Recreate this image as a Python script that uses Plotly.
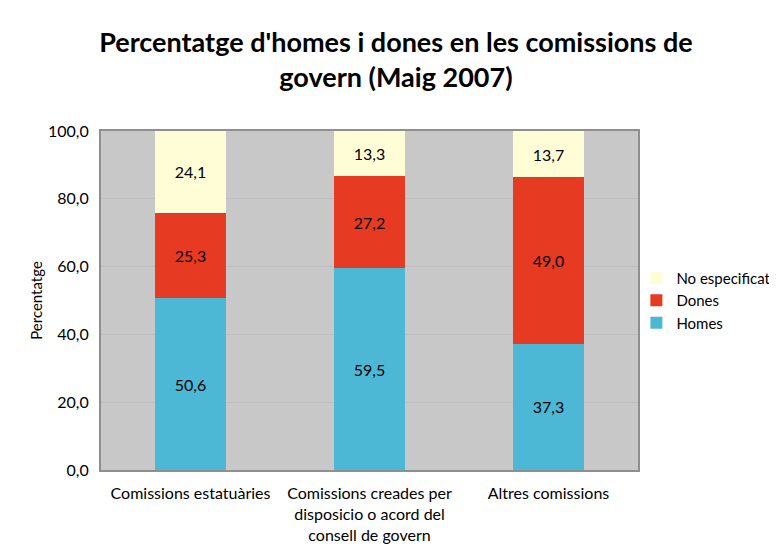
import plotly.graph_objects as go

categories = [
    'Comissions estatuàries',
    'Comissions creades per<br>disposicio o acord del<br>consell de govern',
    'Altres comissions',
]
homes = [50.6, 59.5, 37.3]
dones = [25.3, 27.2, 49.0]
no_especificat = [24.1, 13.3, 13.7]

SERIES = [
    ('Homes', homes, '#4db8d6'),
    ('Dones', dones, '#e63b22'),
    ('No especificat', no_especificat, '#fffdd6'),
]

FONT = 'Lato, "Open Sans", sans-serif'


def fmt(v):
    return f'{v:.1f}'.replace('.', ',')


fig = go.Figure()
for name, vals, color in SERIES:
    fig.add_trace(go.Bar(
        name=name,
        x=categories,
        y=vals,
        marker=dict(color=color, line=dict(width=0)),
        text=[fmt(v) for v in vals],
        textposition='inside',
        insidetextanchor='middle',
        textfont=dict(color='black', size=16, family=FONT),
        width=0.4,
    ))

# page body has an 8px margin, so the figure is sized a bit smaller
fig.update_layout(
    barmode='stack',
    width=769, height=548,
    margin=dict(l=93, r=139, t=123, b=86, autoexpand=False),
    paper_bgcolor='white',
    plot_bgcolor='#c8c8c8',
    font=dict(family=FONT, color='black', size=16),
    title=dict(
        text="<b>Percentatge d'homes i dones en les comissions de<br>govern (Maig 2007)</b>",
        x=0.5045, xanchor='center', xref='container',
        y=0.92, yanchor='middle',
        font=dict(size=27, family=FONT, color='black', weight=900),
    ),
    legend=dict(
        traceorder='reversed',
        x=0.997, xanchor='left', y=0.5, yanchor='middle',
        font=dict(size=15, family=FONT),
        bgcolor='rgba(0,0,0,0)',
        itemwidth=30,
        tracegroupgap=0,
    ),
    showlegend=True,
    uniformtext=dict(minsize=12, mode='show'),
    separators=',.',
)
fig.update_yaxes(
    range=[0, 100], dtick=20, tickformat='.1f',
    showgrid=True, gridcolor='#bdbdbd', gridwidth=1,
    zeroline=False, showline=True, linecolor='#8f8f8f', linewidth=2, mirror=True,
    ticks='outside', ticklen=7, tickcolor='rgba(0,0,0,0)', automargin=False,
    title=dict(text='Percentatge', font=dict(size=15, family=FONT), standoff=2),
    tickfont=dict(size=16, family=FONT),
)
fig.update_xaxes(
    showline=True, linecolor='#8f8f8f', linewidth=2, mirror=True,
    tickfont=dict(size=16, family=FONT), automargin=False,
    ticks='outside', ticklen=8, tickcolor='rgba(0,0,0,0)', showgrid=False,
)

fig.write_html('out.html')
